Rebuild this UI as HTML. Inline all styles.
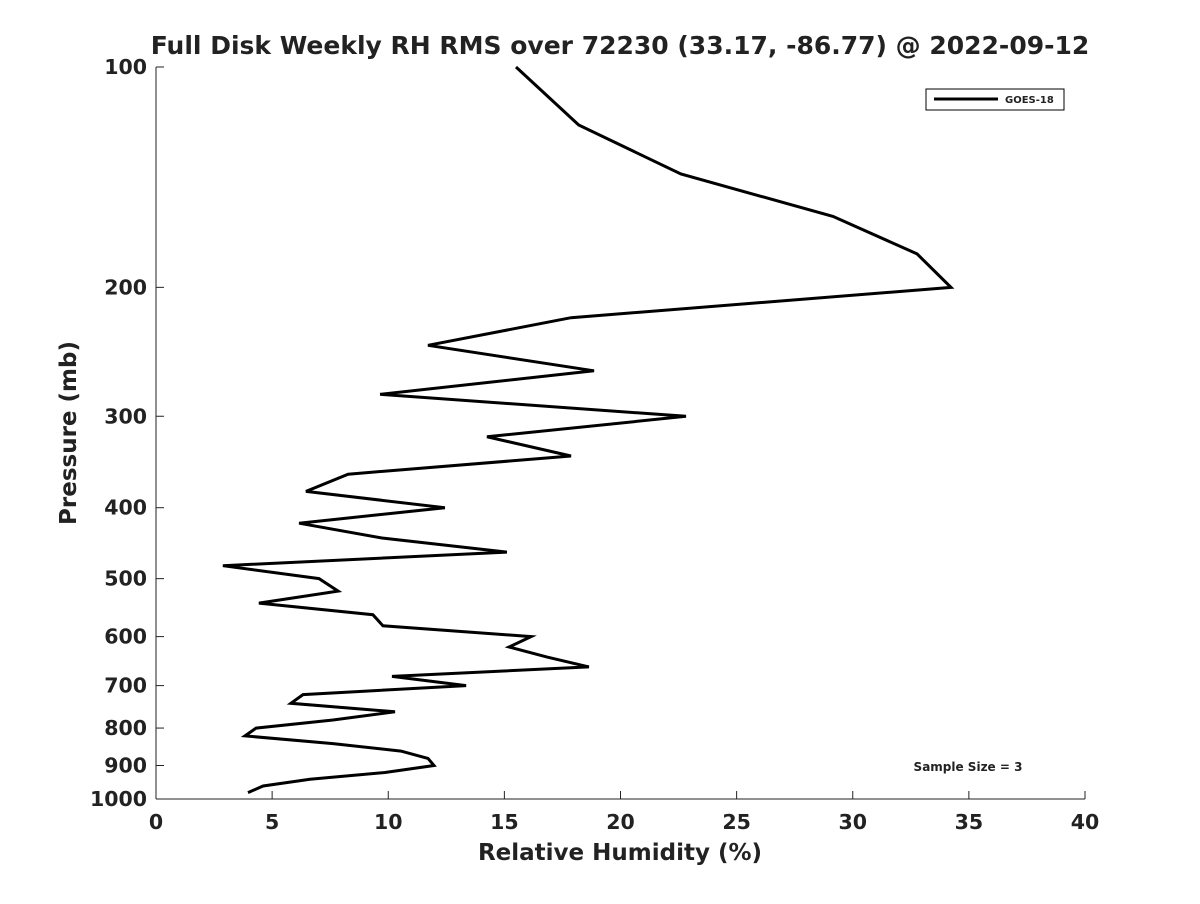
<!DOCTYPE html>
<html><head><meta charset="utf-8"><style>
body{margin:0;background:#fff;font-family:"DejaVu Sans","Liberation Sans",sans-serif;}
svg text{font-family:"DejaVu Sans","Liberation Sans",sans-serif;font-weight:bold;fill:#222;}
</style></head><body>
<svg width="1200" height="900" xmlns="http://www.w3.org/2000/svg">
<rect width="1200" height="900" fill="#fff"/>
<text x="620" y="54" font-size="25" text-anchor="middle" fill="#000">Full Disk Weekly RH RMS over 72230 (33.17, -86.77) @ 2022-09-12</text>
<g id="axes"></g>
<polyline id="series" fill="none" stroke="#000" stroke-width="3" stroke-linejoin="miter"/>
<g>
<rect x="926" y="89" width="138" height="21" fill="#fff" stroke="#000" stroke-width="1"/>
<line x1="934" y1="99" x2="998" y2="99" stroke="#000" stroke-width="3"/>
<text x="1005" y="103" font-size="10">GOES-18</text>
</g>
<text x="968" y="771" font-size="12" text-anchor="middle" fill="#000">Sample Size = 3</text>
<text x="620" y="860" font-size="23" text-anchor="middle">Relative Humidity (%)</text>
<text transform="translate(76,433) rotate(-90)" font-size="23" text-anchor="middle">Pressure (mb)</text>
</svg>
<script>
const pressures=[100,120,140,160,180,200,220,240,260,280,300,320,340,360,380,400,420,440,460,480,500,520,540,560,580,600,620,640,660,680,700,720,740,760,780,800,820,840,860,880,900,920,940,960,980];
const rhValues=[15.5,18.2,22.6,29.15,32.77,34.23,17.87,11.71,18.86,9.65,22.82,14.25,17.87,8.27,6.46,12.44,6.16,9.73,15.11,2.88,7.02,7.84,4.43,9.34,9.77,16.15,15.2,16.84,18.64,10.16,13.35,6.33,5.81,10.29,7.62,4.31,3.83,7.62,10.55,11.71,11.97,9.86,6.63,4.61,3.96];
const xTicks=[0,5,10,15,20,25,30,35,40];
const yTicks=[100,200,300,400,500,600,700,800,900,1000];
const X=v=>156+(v-0)/40*(1085-156);
const Y=p=>67+Math.log10(p/100)*732;
const ns="http://www.w3.org/2000/svg";
const ax=document.getElementById('axes');
function mk(t,a){const e=document.createElementNS(ns,t);for(const k in a)e.setAttribute(k,a[k]);ax.appendChild(e);return e;}
let l=mk('line',{x1:156,y1:67,x2:156,y2:799,stroke:'#222','stroke-width':1});


l=mk('line',{x1:156,y1:799,x2:1085,y2:799,stroke:'#222','stroke-width':1});


xTicks.forEach(v=>{
 const t=mk('line',{x1:X(v),y1:799,x2:X(v),y2:791,stroke:'#222'});
 
 
 const tx=mk('text',{x:X(v),y:829,'font-size':20.5,'text-anchor':'middle'});tx.textContent=v;
 
 
});
yTicks.forEach(p=>{
 const t=mk('line',{x1:156,y1:Y(p),x2:164,y2:Y(p),stroke:'#222'});
 
 
 const tx=mk('text',{x:147,y:Y(p)+7,'font-size':20.5,'text-anchor':'end'});tx.textContent=p;
 
 
});
document.getElementById('series').setAttribute('points',pressures.map((p,i)=>X(rhValues[i]).toFixed(1)+','+Y(p).toFixed(1)).join(' '));
</script>
</body></html>
